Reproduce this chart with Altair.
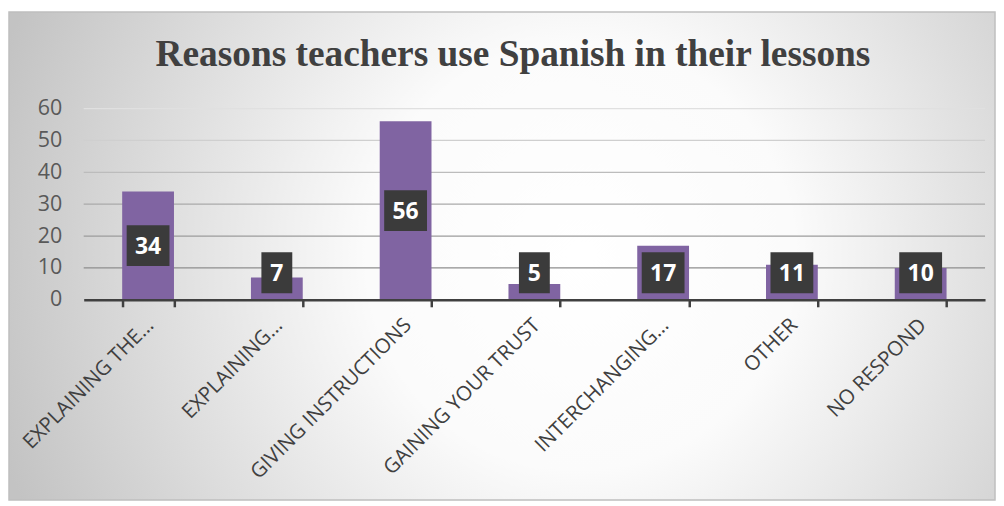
import altair as alt
import pandas as pd

title_text = "Reasons teachers use Spanish in their lessons"
categories = ["EXPLAINING THE…", "EXPLAINING…", "GIVING INSTRUCTIONS",
              "GAINING YOUR TRUST", "INTERCHANGING…", "OTHER", "NO RESPOND"]
values = [34, 7, 56, 5, 17, 11, 10]
ylabels = [0, 10, 20, 30, 40, 50, 60]
yticks = [10, 20, 30, 40, 50, 60]
grid_grays = ["#8e8e8e", "#9c9c9c", "#aaaaaa", "#bcbcbc", "#cfcfcf", "#e0e0e0"]

W, H = 905, 192

df = pd.DataFrame({"cat": categories, "val": values})
df["lab"] = df["val"].astype(str)
grid_df = pd.DataFrame({"t": yticks})
bg_df = pd.DataFrame({"title": [title_text]})

xenc = alt.X("cat:N", sort=categories, title=None,
             scale=alt.Scale(paddingInner=0.6, paddingOuter=0.3),
             axis=alt.Axis(labelAngle=-45, labelAlign="right", labelBaseline="middle",
                           labelFont="Open Sans", labelFontSize=20.5, labelColor="#404040",
                           labelPadding=15, labelOffset=2, labelLimit=400,
                           domainColor="#404040", domainWidth=2.5,
                           tickBand="extent", tickColor="#404040", tickWidth=2.5,
                           tickSize=7, zindex=1))
yscale = alt.Scale(domain=[0, 60], nice=False)
yaxis = alt.Axis(values=ylabels, tickCount=7, grid=False, domain=False,
                 ticks=False, labelFont="Open Sans", labelFontSize=21.5,
                 labelColor="#595959", labelPadding=22, labelOverlap=False,
                 labelFlush=False, zindex=1)

gradient = {
    "gradient": "radial",
    "stops": [
        {"offset": 0, "color": "#ffffff"},
        {"offset": 0.35, "color": "#fbfbfb"},
        {"offset": 1, "color": "#c3c3c3"},
    ],
    "x1": 0.58, "y1": 0.5, "r1": 0,
    "x2": 0.58, "y2": 0.5, "r2": 0.62,
}

bg = alt.Chart(bg_df).mark_rect(fill=gradient, stroke="#bfbfbf", strokeWidth=1.5,
                                clip=False).encode(
    x=alt.value(-75), x2=alt.value(915), y=alt.value(-97), y2=alt.value(393))

title = alt.Chart(bg_df).mark_text(font="Liberation Serif", fontSize=37.5, fontWeight="bold",
                                   color="#404040", align="center",
                                   baseline="alphabetic").encode(
    x=alt.value(431), y=alt.value(-43), text="title:N")

grid = alt.Chart(grid_df).mark_rule(strokeWidth=1.3).encode(
    y=alt.Y("t:Q", scale=yscale, title=None, axis=yaxis),
    color=alt.Color("t:O", scale=alt.Scale(domain=yticks, range=grid_grays), legend=None))

bars = alt.Chart(df).mark_bar(color="#8064A2", width=52).encode(
    x=xenc,
    y=alt.Y("val:Q", scale=yscale, title=None, axis=yaxis))

base = alt.Chart(df).transform_calculate(
    c="max(datum.val / 2, 8.5)",
    lo="max(datum.val / 2, 8.5) - 6.4",
    hi="max(datum.val / 2, 8.5) + 6.4",
    n="length(datum.lab)")

box2 = base.transform_filter("datum.n > 1").mark_bar(color="#3b3b3b", width=43).encode(
    x=alt.X("cat:N", sort=categories),
    y=alt.Y("lo:Q", scale=yscale, title=None, axis=yaxis), y2="hi:Q")
box1 = base.transform_filter("datum.n == 1").mark_bar(color="#3b3b3b", width=31).encode(
    x=alt.X("cat:N", sort=categories),
    y=alt.Y("lo:Q", scale=yscale, title=None, axis=yaxis), y2="hi:Q")
txt = base.mark_text(color="white", font="Open Sans", fontWeight="bold", fontSize=23,
                     baseline="middle", dy=1).encode(
    x=alt.X("cat:N", sort=categories),
    y=alt.Y("c:Q", scale=yscale, title=None, axis=yaxis), text="lab:N")

chart = alt.layer(bg, title, grid, bars, box2, box1, txt).properties(
    width=W, height=H,
    padding={"left": 0, "top": 2, "right": 0, "bottom": 0},
).configure_view(stroke=None).configure(background="white")

chart.save("out.html", embed_options={"renderer": "svg", "actions": False})
